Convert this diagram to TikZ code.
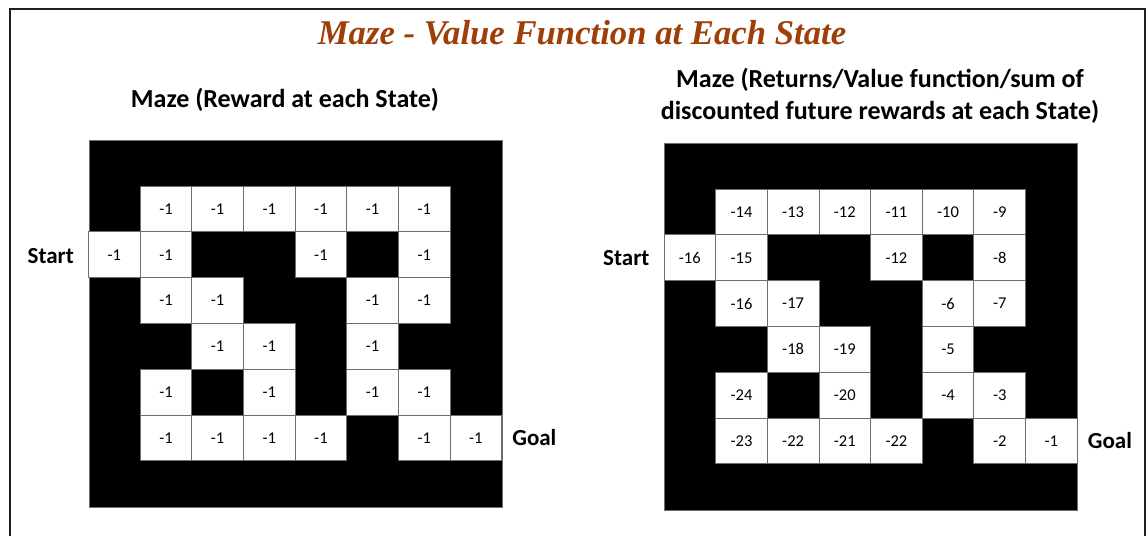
\documentclass[tikz,border=0pt]{standalone}
\usepackage{fontspec}
\setmainfont{Carlito}
\newfontfamily\titlefont{Liberation Serif}
\definecolor{titlebrown}{RGB}{158,62,8}
\definecolor{cellgray}{RGB}{110,110,110}
\definecolor{framegray}{RGB}{30,30,30}
\begin{document}
\begin{tikzpicture}[x=1pt,y=-1pt,
  cellbox/.style={draw=cellgray, line width=0.9pt, fill=white, minimum width=51.65pt, minimum height=45.8pt, inner sep=0pt, font=\fontsize{16.5}{19}\selectfont},
  wall/.style={draw=cellgray, line width=0.9pt, fill=black, minimum width=413.2pt, minimum height=366.4pt, inner sep=0pt},
  lbl/.style={font=\bfseries\fontsize{23}{27}\selectfont, inner sep=0pt},
  sub/.style={font=\bfseries\fontsize{26}{32}\selectfont, align=center, inner sep=0pt},
  titlestyle/.style={font=\titlefont\bfseries\itshape\fontsize{34.7}{40}\selectfont, text=titlebrown, inner sep=0pt}
  ]
\useasboundingbox (0,0) rectangle (1148,536);
\draw[line width=2pt, framegray] (9.5,536) -- (9.5,9) -- (1145,9) -- (1145,536);

\node[titlestyle] (title) at (582,33) {Maze - Value Function at Each State};

\node[sub] (Lsub) at (285,100) {Maze (Reward at each State)};
\node[sub] (Rsub) at (880,96) {Maze (Returns/Value function/sum of\\discounted future rewards at each State)};

% left maze
\node[wall, anchor=north west] (Lwall) at (88.5,140.2) {};
\foreach \r/\c in {1/1,1/2,1/3,1/4,1/5,1/6,2/0,2/1,2/4,2/6,3/1,3/2,3/5,3/6,4/2,4/3,4/5,5/1,5/3,5/5,5/6,6/1,6/2,6/3,6/4,6/6,6/7}
  \node[cellbox] (L-\r-\c) at ({88.5+(\c+0.5)*51.65},{140.2+(\r+0.5)*45.8}) {-1};
\node[lbl, anchor=east] (Lstart) at ([xshift=-14pt,yshift=-1pt]L-2-0.west) {Start};
\node[lbl, anchor=west] (Lgoal) at ([xshift=10pt]L-6-7.east) {Goal};

% right maze
\node[wall, anchor=north west] (Rwall) at (664,143.3) {};
\foreach \r/\c/\v in {1/1/-14,1/2/-13,1/3/-12,1/4/-11,1/5/-10,1/6/-9,
  2/0/-16,2/1/-15,2/4/-12,2/6/-8,
  3/1/-16,3/2/-17,3/5/-6,3/6/-7,
  4/2/-18,4/3/-19,4/5/-5,
  5/1/-24,5/3/-20,5/5/-4,5/6/-3,
  6/1/-23,6/2/-22,6/3/-21,6/4/-22,6/6/-2,6/7/-1}
  \node[cellbox] (R-\r-\c) at ({664+(\c+0.5)*51.65},{143.3+(\r+0.5)*45.8}) {\v};
\node[lbl, anchor=east] (Rstart) at ([xshift=-14pt]R-2-0.west) {Start};
\node[lbl, anchor=west] (Rgoal) at ([xshift=10pt]R-6-7.east) {Goal};
\end{tikzpicture}
\end{document}
